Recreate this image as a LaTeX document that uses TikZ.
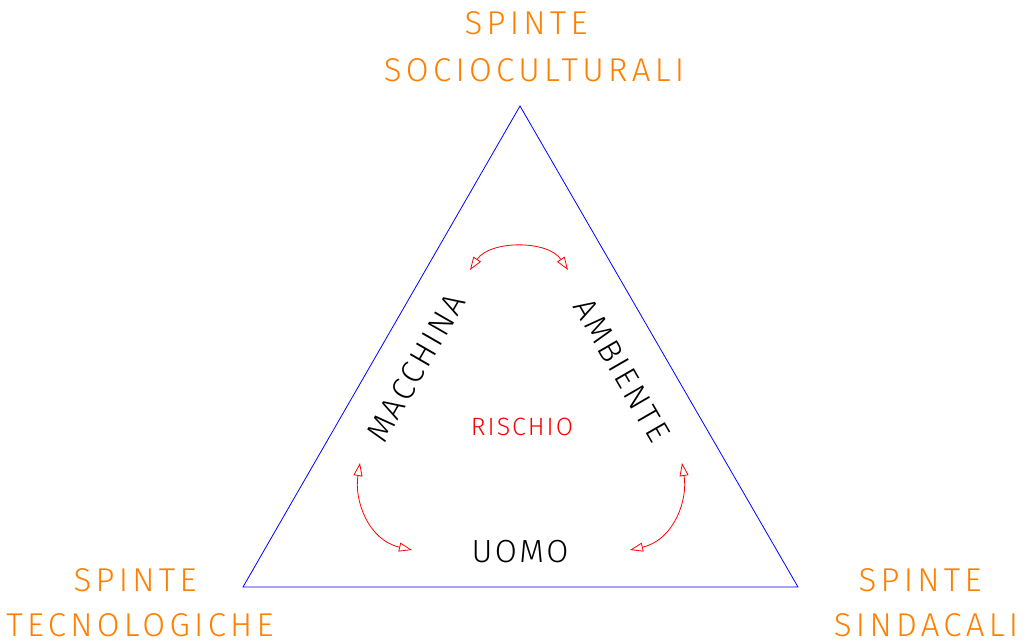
\documentclass[tikz,border=0pt]{standalone}
\usepackage{fontspec}
\usetikzlibrary{arrows.meta}
\newfontfamily\cadfont{Fira Sans Light}[LetterSpace=13]
\newfontfamily\cadfontin{Fira Sans Light}[LetterSpace=8]
\definecolor{spinta}{RGB}{255,128,0}
\tikzset{
  spintalabel/.style={text=spinta, font=\cadfont\fontsize{33}{33}\selectfont, inner sep=0pt},
  fattore/.style={text=black, font=\cadfontin\fontsize{32}{32}\selectfont, inner sep=0pt},
  rischiolabel/.style={text=red, font=\cadfontin\fontsize{25}{25}\selectfont, inner sep=0pt},
  lato/.style={draw=blue, line width=0.8pt},
  legame/.style={draw=red, line width=0.8pt, {Triangle[open,length=13pt,width=9pt]}-{Triangle[open,length=13pt,width=9pt]}}
}
\begin{document}
\begin{tikzpicture}[x=1pt,y=-1pt]
  \useasboundingbox (0,0) rectangle (1027,643);
  % vertices of the triangle
  \coordinate (vt) at (520,106);
  \coordinate (vl) at (243,587);
  \coordinate (vr) at (798,587);
  \draw[lato] (vt) -- (vr) -- (vl) -- cycle;

  % outer pushes
  \node[spintalabel] (s1a) at (526,23) {SPINTE};
  \node[spintalabel] (s1b) at (534,70) {SOCIOCULTURALI};
  \node[spintalabel] (s2a) at (135,580) {SPINTE};
  \node[spintalabel] (s2b) at (140,625) {TECNOLOGICHE};
  \node[spintalabel] (s3a) at (920,580) {SPINTE};
  \node[spintalabel] (s3b) at (926,625) {SINDACALI};

  % inner factors
  \node[fattore, rotate=60] (macchina) at (416,368) {MACCHINA};
  \node[fattore, rotate=-60] (ambiente) at (622,370) {AMBIENTE};
  \node[fattore] (uomo) at (520,552) {UOMO};
  \node[rischiolabel] (rischio) at (522,427) {RISCHIO};

  % interactions between factors
  \coordinate (t1) at (470,270);
  \coordinate (t2) at (568,270);
  \coordinate (l1) at (360,463);
  \coordinate (l2) at (412,550);
  \coordinate (r1) at (682,463);
  \coordinate (r2) at (630,550);
  \draw[legame] (t1) .. controls (490,240) and (548,240) .. (t2);
  \draw[legame] (l1) .. controls (354,500) and (368,540) .. (l2);
  \draw[legame] (r1) .. controls (688,500) and (674,540) .. (r2);
\end{tikzpicture}
\end{document}
